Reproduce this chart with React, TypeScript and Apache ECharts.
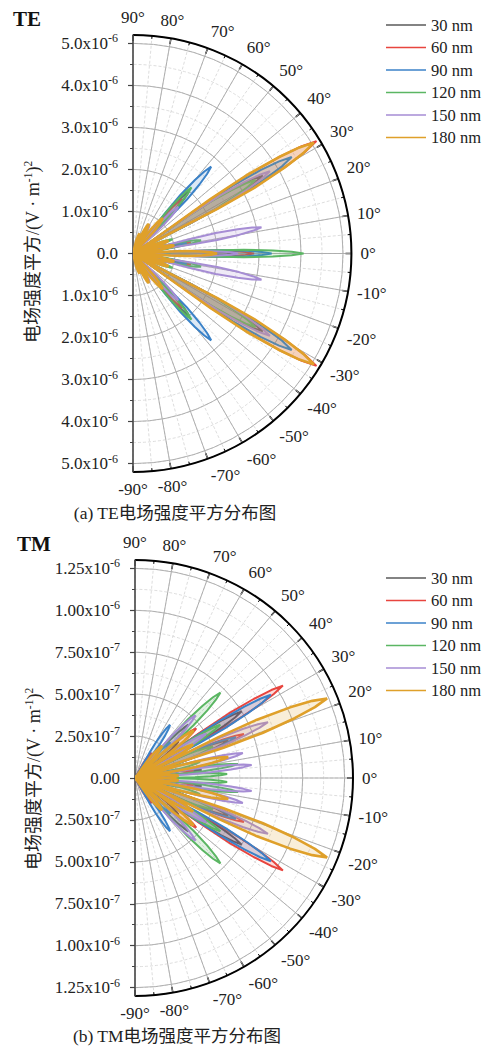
import React, { useEffect, useRef } from 'react';
import * as echarts from 'echarts';

// ---------- data ----------
const SERIES_NAMES = ['30 nm', '60 nm', '90 nm', '120 nm', '150 nm', '180 nm'];
const SERIES_COLORS = ['#5a5a5a', '#e8453f', '#3b82c8', '#5bb663', '#a68dd4', '#dfa02a'];

const ANGLE_MIN = -90;
const ANGLE_MAX = 90;
const ANGLE_STEP = 10;
const ANGLE_MINOR_STEP = 5;

const TE_RADIUS_MAX = 5.2e-6;
const TE_RADIUS_STEP = 1e-6;
const TE_RADIUS_MINOR_STEP = 0.5e-6;
const TE_TICKS = [0, 1e-6, 2e-6, 3e-6, 4e-6, 5e-6];
const TE_MINOR_TICKS = [0.5e-6, 1.5e-6, 2.5e-6, 3.5e-6, 4.5e-6];

const TM_RADIUS_MAX = 1.3e-6;
const TM_RADIUS_STEP = 2.5e-7;
const TM_RADIUS_MINOR_STEP = 1.25e-7;
const TM_TICKS = [0, 2.5e-7, 5e-7, 7.5e-7, 1e-6, 1.25e-6];
const TM_MINOR_TICKS = [1.25e-7, 3.75e-7, 6.25e-7, 8.75e-7, 1.125e-6];

// lobes: [angle (deg), peak |E|^2, half width (deg)]
const TE_30 = [[31, 3.6e-6, 3.2], [-31, 3.6e-6, 3.2], [48, 2.0e-6, 3], [-48, 2.0e-6, 3], [11, 1.2e-6, 3], [-11, 1.2e-6, 3], [0, 2.4e-6, 2.5]];
const TE_60 = [[31.5, 5.12e-6, 3.4], [-31.5, 5.12e-6, 3.4], [48, 1.75e-6, 3], [-48, 1.75e-6, 3], [11, 1.4e-6, 3], [-11, 1.4e-6, 3], [0, 2.88e-6, 2.5], [62, 0.6e-6, 4], [-62, 0.6e-6, 4]];
const TE_90 = [[31.3, 4.42e-6, 3.4], [-31.3, 4.42e-6, 3.4], [48, 2.78e-6, 3.5], [-48, 2.78e-6, 3.5], [11, 1.3e-6, 3], [-11, 1.3e-6, 3], [0, 3.3e-6, 2.5], [65, 0.5e-6, 4], [-65, 0.5e-6, 4]];
const TE_120 = [[31, 3.4e-6, 3.2], [-31, 3.4e-6, 3.2], [48.5, 2.1e-6, 3], [-48.5, 2.1e-6, 3], [11, 1.65e-6, 3], [-11, 1.65e-6, 3], [0, 4.06e-6, 2.3], [20, 1.0e-6, 3], [-20, 1.0e-6, 3]];
const TE_150 = [[31, 3.8e-6, 3.2], [-31, 3.8e-6, 3.2], [46, 1.55e-6, 3.5], [-46, 1.55e-6, 3.5], [11.5, 3.12e-6, 2.8], [-11.5, 3.12e-6, 2.8], [0, 2.5e-6, 2.5], [60, 0.8e-6, 4], [-60, 0.8e-6, 4]];
const TE_180 = [[31.5, 5.05e-6, 3.6], [-31.5, 5.05e-6, 3.6], [50, 1.1e-6, 4], [-50, 1.1e-6, 4], [62, 0.8e-6, 4], [-62, 0.8e-6, 4], [72, 0.5e-6, 4], [-72, 0.5e-6, 4], [11, 1.0e-6, 3.5], [-11, 1.0e-6, 3.5], [20, 0.9e-6, 3.5], [-20, 0.9e-6, 3.5], [0, 2.0e-6, 3]];

const TM_30 = [[32, 7.5e-7, 3], [-32, 7.5e-7, 3], [40, 3.4e-7, 3.5], [-40, 3.4e-7, 3.5], [45, 4.5e-7, 3], [-45, 4.5e-7, 3], [22, 6.0e-7, 3], [-22, 6.0e-7, 3], [7, 4.0e-7, 3], [-7, 4.0e-7, 3]];
const TM_60 = [[32, 10.4e-7, 3], [-32, 10.4e-7, 3], [39, 4.7e-7, 3.5], [-39, 4.7e-7, 3.5], [57, 1.8e-7, 4], [-57, 1.8e-7, 4], [22, 7.0e-7, 3], [-22, 7.0e-7, 3], [7, 3.5e-7, 3], [-7, 3.5e-7, 3]];
const TM_90 = [[31.5, 9.5e-7, 3], [-31.5, 9.5e-7, 3], [56.6, 3.8e-7, 3.5], [-56.6, 3.8e-7, 3.5], [45, 3.0e-7, 3.5], [-45, 3.0e-7, 3.5], [22, 6.5e-7, 3], [-22, 6.5e-7, 3], [10, 3.0e-7, 3], [-10, 3.0e-7, 3]];
const TM_120 = [[45, 7.2e-7, 3.5], [-45, 7.2e-7, 3.5], [7.7, 6.2e-7, 2.5], [-7.7, 6.2e-7, 2.5], [2.5, 5.5e-7, 2.2], [-2.5, 5.5e-7, 2.2], [32, 6.0e-7, 3], [-32, 6.0e-7, 3], [22, 5.0e-7, 3], [-22, 5.0e-7, 3], [14, 4.0e-7, 3], [-14, 4.0e-7, 3]];
const TM_150 = [[22.8, 8.6e-7, 3], [-22.8, 8.6e-7, 3], [13, 6.6e-7, 2.8], [-13, 6.6e-7, 2.8], [6.4, 7.0e-7, 2.5], [-6.4, 7.0e-7, 2.5], [46, 5.2e-7, 3.5], [-46, 5.2e-7, 3.5], [32, 5.0e-7, 3], [-32, 5.0e-7, 3]];
const TM_180 = [[22.5, 12.4e-7, 3.6], [-22.5, 12.4e-7, 3.6], [12.7, 5.7e-7, 3], [-12.7, 5.7e-7, 3], [39, 4.5e-7, 3.5], [-39, 4.5e-7, 3.5], [30, 4.0e-7, 3.5], [-30, 4.0e-7, 3.5], [3, 2.6e-7, 4], [-3, 2.6e-7, 4], [50, 2.5e-7, 4], [-50, 2.5e-7, 4]];

const TE_LOBES = [TE_30, TE_60, TE_90, TE_120, TE_150, TE_180];
const TM_LOBES = [TM_30, TM_60, TM_90, TM_120, TM_150, TM_180];

// leaf outline profile (style of a lobe): fraction of peak radius / fraction of half width
const LEAF_F = [0, 0.1, 0.25, 0.45, 0.65, 0.82, 0.93, 1];
const LEAF_G = [0, 0.6, 0.9, 1, 0.85, 0.55, 0.28, 0];

const FONT = "'Liberation Serif', 'Times New Roman', 'Noto Sans CJK SC', serif";

function buildLobes(lobes: number[][]) {
  const pts: number[][] = [];
  lobes.forEach(([ang, peak, hw]) => {
    for (let i = 0; i < LEAF_F.length; i++) pts.push([peak * LEAF_F[i], ang + LEAF_G[i] * hw]);
    for (let i = LEAF_F.length - 2; i >= 0; i--) pts.push([peak * LEAF_F[i], ang - LEAF_G[i] * hw]);
  });
  return pts;
}

function symmetric(ticks: number[]) {
  const neg = ticks.filter((t) => t > 0).map((t) => -t).reverse();
  return [...neg, ...ticks];
}

function teLabel(v: number) {
  const a = Math.abs(v);
  if (a < 1e-12) return '{a|0.0}';
  return `{a|${(a / 1e-6).toFixed(1)}x10}{b|-6}`;
}
function tmLabel(v: number) {
  const a = Math.abs(v);
  if (a < 1e-12) return '{a|0.00}';
  const e = a >= 9.99e-7 ? -6 : -7;
  return `{a|${(a / Math.pow(10, e)).toFixed(2)}x10}{b|${e}}`;
}

const labelRich = {
  a: { fontFamily: FONT, fontSize: 17, color: '#222', lineHeight: 22 },
  b: { fontFamily: FONT, fontSize: 12, color: '#222', verticalAlign: 'top', lineHeight: 13 },
};

const GRID_SOLID = '#a8a8a8';
const GRID_DASH = '#d4d4d4';

function angleAxisCfg(idx: number, minor: boolean) {
  return {
    polarIndex: idx,
    type: 'value',
    min: ANGLE_MIN,
    max: ANGLE_MAX,
    interval: minor ? ANGLE_MINOR_STEP : ANGLE_STEP,
    startAngle: -90,
    endAngle: 90,
    clockwise: false,
    axisLine: { show: !minor, lineStyle: { color: '#000', width: 2 } },
    axisTick: { show: !minor, inside: true, length: 6, lineStyle: { color: '#000', width: 1.5 } },
    minorTick: { show: !minor, splitNumber: 2, length: 3, lineStyle: { color: '#000', width: 1 } },
    axisLabel: { show: !minor, formatter: '{value}°', margin: 9, color: '#222', fontSize: 17, fontFamily: FONT },
    splitLine: { show: true, lineStyle: minor ? { color: GRID_DASH, width: 0.8, type: [3, 2] } : { color: GRID_SOLID, width: 0.9 } },
    minorSplitLine: { show: false },
  };
}

function radiusAxisCfg(idx: number, max: number, step: number, minor: boolean) {
  return {
    polarIndex: idx,
    type: 'value',
    min: 0,
    max,
    interval: step,
    axisLine: { show: false },
    axisTick: { show: false },
    axisLabel: { show: false },
    splitLine: { show: true, lineStyle: minor ? { color: GRID_DASH, width: 0.8, type: [3, 2] } : { color: GRID_SOLID, width: 0.9 } },
    minorSplitLine: { show: false },
  };
}

const TE_CENTER = [133, 253.5];
const TE_RADIUS = 218.5;
const TM_CENTER = [135, 778];
const TM_RADIUS = 218;

export default function App() {
  const ref = useRef<HTMLDivElement>(null);
  useEffect(() => {
    if (!ref.current) return;
    const chart = echarts.init(ref.current, null, { renderer: 'svg' });

    const series: any[] = [];
    [TE_LOBES, TM_LOBES].forEach((group, gi) => {
      group.forEach((lobes, si) => {
        series.push({
          name: SERIES_NAMES[si],
          type: 'line',
          coordinateSystem: 'polar',
          polarIndex: gi + 2,
          showSymbol: false,
          symbol: 'none',
          data: buildLobes(lobes),
          lineStyle: { color: SERIES_COLORS[si], width: si === 5 ? 2.6 : 2 },
          itemStyle: { color: SERIES_COLORS[si] },
          areaStyle: { color: SERIES_COLORS[si], opacity: 0.18 },
          z: 3 + si,
        });
      });
    });

    const yMajor = (gi: number, max: number, ticks: number[], fmt: (v: number) => string) => ({
      gridIndex: gi,
      type: 'value',
      position: 'left',
      min: -max,
      max,
      axisLine: { show: true, lineStyle: { color: '#444', width: 1.5 } },
      axisTick: { show: true, inside: false, length: 5, customValues: symmetric(ticks), lineStyle: { color: '#444', width: 1.2 } },
      axisLabel: { show: true, customValues: symmetric(ticks), formatter: fmt, margin: 15, rich: labelRich },
      splitLine: { show: false },
    });
    const yMinor = (gi: number, max: number, ticks: number[]) => ({
      gridIndex: gi,
      type: 'value',
      position: 'left',
      min: -max,
      max,
      axisLine: { show: false },
      axisTick: { show: true, inside: false, length: 3, customValues: symmetric(ticks), lineStyle: { color: '#444', width: 1 } },
      axisLabel: { show: false },
      splitLine: { show: false },
    });

    const legendCfg = (top: number) => ({
      orient: 'vertical',
      left: 386,
      top,
      padding: 0,
      icon: 'rect',
      itemWidth: 40,
      itemHeight: 1.5,
      itemGap: 0.5,
      data: SERIES_NAMES,
      textStyle: { fontFamily: FONT, fontSize: 16.5, color: '#222', lineHeight: 22 },
    });

    const yName = (x: number, y: number) => ({
      type: 'text', x, y, rotation: Math.PI / 2,
      style: {
        text: '{c|电场强度平方/(V · m}{s|-1}{c|)}{s|2}',
        align: 'center', verticalAlign: 'middle', textAlign: 'center', textVerticalAlign: 'middle',
        rich: {
          c: { fontFamily: FONT, fontSize: 18, fill: '#222', lineHeight: 22 },
          s: { fontFamily: FONT, fontSize: 11.5, fill: '#222', verticalAlign: 'top', lineHeight: 13 },
        },
      },
    });

    chart.setOption({
      animation: false,
      backgroundColor: '#ffffff',
      polar: [
        { center: TE_CENTER, radius: TE_RADIUS },
        { center: TM_CENTER, radius: TM_RADIUS },
        { center: TE_CENTER, radius: TE_RADIUS },
        { center: TM_CENTER, radius: TM_RADIUS },
      ],
      angleAxis: [angleAxisCfg(0, true), angleAxisCfg(1, true), angleAxisCfg(2, false), angleAxisCfg(3, false)],
      radiusAxis: [
        radiusAxisCfg(0, TE_RADIUS_MAX, TE_RADIUS_MINOR_STEP, true),
        radiusAxisCfg(1, TM_RADIUS_MAX, TM_RADIUS_MINOR_STEP, true),
        radiusAxisCfg(2, TE_RADIUS_MAX, TE_RADIUS_STEP, false),
        radiusAxisCfg(3, TM_RADIUS_MAX, TM_RADIUS_STEP, false),
      ],
      grid: [
        { left: 133, top: 35, width: 10, height: 437 },
        { left: 135, top: 560, width: 10, height: 436 },
      ],
      xAxis: [
        { gridIndex: 0, type: 'value', show: false },
        { gridIndex: 1, type: 'value', show: false },
      ],
      yAxis: [
        yMajor(0, TE_RADIUS_MAX, TE_TICKS, teLabel),
        yMinor(0, TE_RADIUS_MAX, TE_MINOR_TICKS),
        yMajor(1, TM_RADIUS_MAX, TM_TICKS, tmLabel),
        yMinor(1, TM_RADIUS_MAX, TM_MINOR_TICKS),
      ],
      legend: [legendCfg(14), legendCfg(567)],
      graphic: [
        { type: 'text', left: 13, top: 8, style: { text: 'TE', font: `bold 21px ${FONT}`, fill: '#111' } },
        { type: 'text', left: 17, top: 533, style: { text: 'TM', font: `bold 21px ${FONT}`, fill: '#111' } },
        yName(33, 252),
        yName(34, 779),
        {
          type: 'text', x: 175, y: 513,
          style: { text: '(a) TE电场强度平方分布图', font: `17.5px ${FONT}`, fill: '#222', align: 'center', verticalAlign: 'middle', textAlign: 'center', textVerticalAlign: 'middle' },
        },
        {
          type: 'text', x: 177, y: 1036,
          style: { text: '(b) TM电场强度平方分布图', font: `17.5px ${FONT}`, fill: '#222', align: 'center', verticalAlign: 'middle', textAlign: 'center', textVerticalAlign: 'middle' },
        },
      ],
      series,
    });
    return () => chart.dispose();
  }, []);
  return <div ref={ref} style={{ position: 'absolute', left: 0, top: 0, width: 491, height: 1049 }} />;
}
